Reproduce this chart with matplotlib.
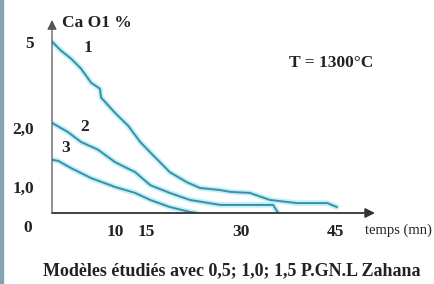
import numpy as np
import matplotlib
matplotlib.use("Agg")
import matplotlib.pyplot as plt
from matplotlib.patches import Rectangle

# data (time in mn, CaO %)
t1 = [0, 1.4, 3.0, 4.6, 6.2, 7.6, 7.8, 10.0, 12.1, 14.0, 16.0, 18.7, 21.4,
      23.5, 26.7, 28.3, 31.4, 34.6, 38.9, 43.7, 45.2]
c1 = [5.0, 4.69, 4.41, 4.06, 3.57, 3.36, 3.05, 2.52, 2.07, 1.76, 1.54, 1.25,
      1.08, 0.96, 0.88, 0.81, 0.77, 0.50, 0.38, 0.38, 0.23]
t2 = [0, 2.5, 4.6, 7.3, 10.0, 13.2, 15.6, 18.7, 21.9, 26.7, 35.1, 35.9]
c2 = [2.17, 1.93, 1.76, 1.63, 1.42, 1.25, 1.03, 0.77, 0.50, 0.31, 0.31, 0.0]
t3 = [0, 1.0, 3.0, 6.2, 10.0, 13.2, 15.6, 18.7, 21.9, 23.0]
c3 = [1.46, 1.44, 1.32, 1.15, 1.0, 0.77, 0.50, 0.23, 0.04, 0.0]

x_ticks = [10, 15, 30, 45]
y_ticks = [1, 2, 5]
y_labels = ["1,0", "2,0", "5"]

# the drawing uses an uneven vertical scale
y_vals = [0, 1, 2, 5, 6]
y_pos = [0, 26, 85, 171, 199.7]


def fwd(v):
    return np.interp(v, y_vals, y_pos)


def inv(p):
    return np.interp(p, y_pos, y_vals)


W, H = 434, 284
fig = plt.figure(figsize=(W / 100, H / 100), dpi=100)
fig.patch.set_facecolor("white")
fig.patches.append(Rectangle((0, 0), 3 / W, 1, transform=fig.transFigure,
                             color="#86a3b1", zorder=0))

ax = fig.add_axes([52 / W, (H - 213) / H, (375 - 52) / W, (213 - 20) / H])
ax.set_yscale("function", functions=(fwd, inv))
ax.set_xlim(0, (375 - 52) / 6.3)
ax.set_ylim(0, 5.75)
for s in ax.spines.values():
    s.set_visible(False)

serif = "Liberation Serif"
bold = dict(family=serif, weight="bold", size=12.5, color="#222222")

for t, c in [(t1, c1), (t2, c2), (t3, c3)]:
    ax.plot(t, c, color="#c2f0f9", lw=4, solid_capstyle="round", zorder=2)
    ax.plot(t, c, color="#3b8ea5", lw=1.4, zorder=3)

# axes with arrows
ax.annotate("", xy=(1, 0), xytext=(0, 0), xycoords="axes fraction",
            arrowprops=dict(arrowstyle="-|>", color="#333333", lw=1.3,
                            mutation_scale=14, shrinkA=0, shrinkB=0))
ax.annotate("", xy=(0, 1), xytext=(0, 0), xycoords="axes fraction",
            arrowprops=dict(arrowstyle="-|>", color="#555555", lw=0.9,
                            mutation_scale=14, shrinkA=0, shrinkB=0))

ax.set_xticks(x_ticks)
ax.set_xticklabels([str(v) for v in x_ticks])
ax.set_yticks(y_ticks)
ax.set_yticklabels(y_labels)
ax.tick_params(length=0, pad=8)
ax.tick_params(axis="y", pad=13)
for lab in ax.get_xticklabels() + ax.get_yticklabels():
    lab.set_fontfamily(serif)
    lab.set_fontweight("bold")
    lab.set_fontsize(12.5)
    lab.set_color("#222222")
ax.minorticks_off()

# curve numbers
ax.text(5.7, 4.79, "1", ha="center", va="center", **bold)
ax.text(5.2, 2.03, "2", ha="center", va="center", **bold)
ax.text(2.1, 1.66, "3", ha="center", va="center", **bold)

fig.text(28 / W, 1 - 228 / H, "0", ha="center", va="center", **bold)
fig.text(62 / W, 1 - 23 / H, "Ca O1 %", ha="left", va="center", **bold)
fig.text(331 / W, 1 - 63 / H, "T = 1300°C", ha="center", va="center", **bold)
fig.text(432 / W, 1 - 230 / H, "temps (mn)", ha="right", va="center",
         family=serif, size=10.5, color="#222222")
fig.text(232 / W, 1 - 271 / H, "Modèles étudiés avec 0,5; 1,0; 1,5 P.GN.L Zahana",
         ha="center", va="center", **dict(bold, size=13))

fig.savefig("out.png", dpi=100)
